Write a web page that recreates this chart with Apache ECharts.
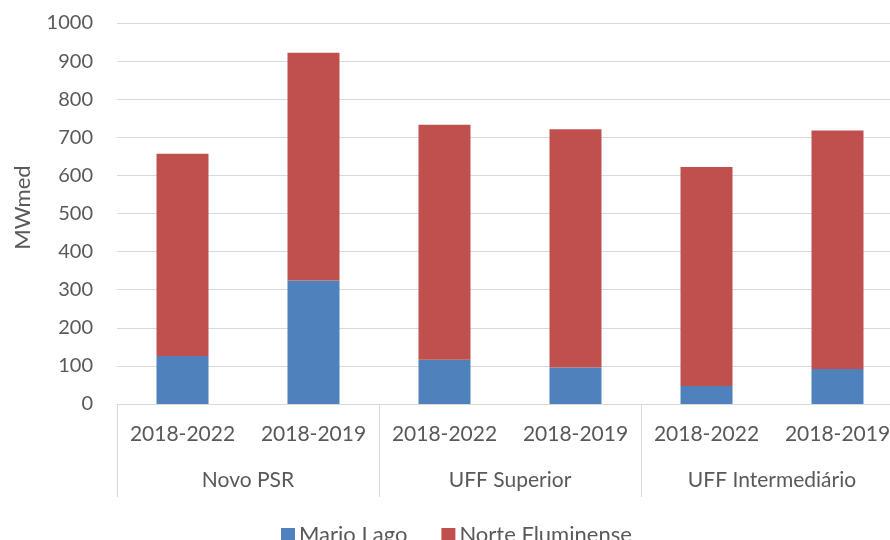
<!DOCTYPE html>
<html>
<head>
<meta charset="utf-8">
<script src="https://cdn.jsdelivr.net/npm/echarts@6/dist/echarts.min.js"></script>
<style>
html,body{margin:0;padding:0;background:#fff;}
#c{width:890px;height:540px;}
</style>
</head>
<body>
<div id="c"></div>
<script>
const categories = ['2018-2022', '2018-2019', '2018-2022', '2018-2019', '2018-2022', '2018-2019'];
const groups = ['Novo PSR', 'UFF Superior', 'UFF Intermediário'];
const marioLago = [126, 324, 116, 96, 47, 92];
const norteFluminense = [531, 598, 617, 625, 575, 626];
const yTicks = { min: 0, max: 1000, interval: 100 };

const FONT = 'Lato';
const TXT = '#595959';
const GRID = '#d9d9d9';

const chart = echarts.init(document.getElementById('c'), null, { renderer: 'canvas' });
chart.setOption({
  animation: false,
  backgroundColor: '#ffffff',
  textStyle: { fontFamily: FONT },
  grid: { left: 117, top: 23, right: -13, bottom: 136, containLabel: false, outerBoundsMode: 'none' },
  legend: {
    top: 519,
    left: 276,
    itemWidth: 14,
    itemHeight: 14,
    itemGap: 34,
    icon: 'rect',
    textStyle: { fontFamily: FONT, fontSize: 22, color: TXT, padding: [0, 0, 0, -1] },
    data: ['Mario Lago', 'Norte Fluminense']
  },
  xAxis: [
    {
      type: 'category',
      data: categories,
      position: 'bottom',
      axisLine: { show: true, lineStyle: { color: GRID, width: 1 } },
      axisTick: { show: false },
      axisLabel: { fontFamily: FONT, fontSize: 21, color: TXT, margin: 20, interval: 0 }
    },
    {
      type: 'category',
      data: groups,
      position: 'bottom',
      axisLine: { show: false },
      axisTick: { show: true, length: 93, interval: 0, lineStyle: { color: GRID, width: 1 } },
      axisLabel: { fontFamily: FONT, fontSize: 21, color: TXT, margin: 66, interval: 0 }
    }
  ],
  yAxis: {
    type: 'value',
    min: yTicks.min,
    max: yTicks.max,
    interval: yTicks.interval,
    name: 'MWmed',
    nameLocation: 'middle',
    nameGap: 83,
    nameRotate: 90,
    nameTextStyle: { fontFamily: FONT, fontSize: 22, color: TXT, padding: [0, 0, 0, 12] },
    axisLine: { show: false },
    axisTick: { show: false },
    axisLabel: { fontFamily: FONT, fontSize: 20, color: TXT, margin: 24, formatter: v => String(v) },
    splitLine: { lineStyle: { color: GRID, width: 1 } }
  },
  series: [
    {
      name: 'Mario Lago',
      type: 'bar',
      stack: 'total',
      barWidth: 52,
      data: marioLago,
      itemStyle: { color: '#4F81BD' }
    },
    {
      name: 'Norte Fluminense',
      type: 'bar',
      stack: 'total',
      barWidth: 52,
      data: norteFluminense,
      itemStyle: { color: '#C0504D' }
    }
  ]
});
</script>
</body>
</html>
